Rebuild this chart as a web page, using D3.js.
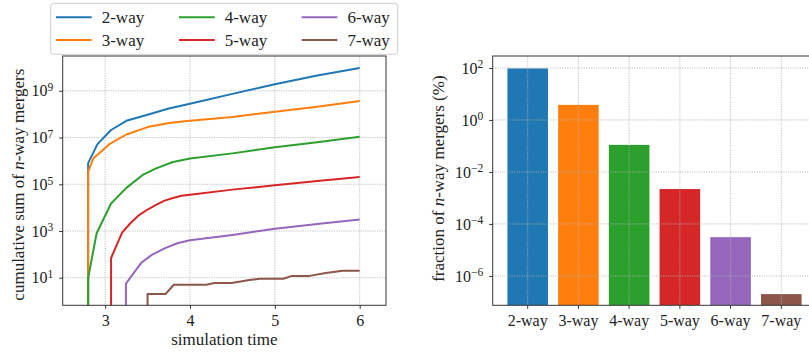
<!DOCTYPE html>
<html>
<head>
<meta charset="utf-8">
<script src="https://cdn.jsdelivr.net/npm/d3@7"></script>
<style>
  body { margin: 0; background: #fff; }
  text { font-family: "Liberation Serif", "DejaVu Serif", serif; fill: #222; }
</style>
</head>
<body>
<svg id="chart" width="809" height="354"></svg>
<script>
// ---- data ----
let categories = ["2-way", "3-way", "4-way", "5-way", "6-way", "7-way"];
let colors = ["#1f77b4", "#ff7f0e", "#2ca02c", "#d62728", "#9467bd", "#8c564b"];

// cumulative sums, one time/value pair of arrays per series (0 = nothing yet)
let t2 = [2.7, 2.8, 2.91, 3.07, 3.25, 3.5, 3.75, 4.0, 4.5, 5.0, 5.5, 6.0];
let v2 = [0, 8e5, 5.2e6, 2.1e7, 5.2e7, 9.5e7, 1.74e8, 2.8e8, 7.4e8, 1.9e9, 4.5e9, 9.5e9];
let t3 = [2.7, 2.8, 2.86, 3.05, 3.25, 3.5, 3.75, 4.0, 4.5, 5.0, 5.5, 6.0];
let v3 = [0, 3.5e5, 1.26e6, 5.2e6, 1.35e7, 2.8e7, 4.2e7, 5.2e7, 7.6e7, 1.26e8, 2.1e8, 3.7e8];
let t4 = [2.7, 2.8, 2.9, 3.07, 3.25, 3.45, 3.6, 3.8, 4.0, 4.5, 5.0, 5.5, 6.0];
let v4 = [0, 10, 800, 1.5e4, 7e4, 2.6e5, 4.8e5, 9e5, 1.26e6, 2.1e6, 3.8e6, 6.3e6, 1.07e7];
let t5 = [2.97, 3.07, 3.2, 3.3, 3.4, 3.5, 3.6, 3.7, 3.8, 3.9, 4.0, 4.5, 5.0, 5.5, 6.0];
let v5 = [0, 70, 850, 2200, 4800, 8300, 1.3e4, 2e4, 2.6e4, 3.2e4, 3.6e4, 5.9e4, 9.1e4, 1.38e5, 2.04e5];
let t6 = [3.145, 3.245, 3.43, 3.55, 3.7, 3.85, 4.0, 4.5, 5.0, 5.5, 6.0];
let v6 = [0, 5.6, 45, 95, 180, 300, 400, 680, 1260, 2000, 3100];
let t7 = [3.4, 3.5, 3.71, 3.81, 4.19, 4.29, 4.49, 4.7, 4.82, 5.1, 5.2, 5.41, 5.6, 5.8, 6.0];
let v7 = [0, 2, 2, 5, 5, 6, 6, 8, 9, 9, 12, 12, 16, 20, 20];

// fraction of n-way mergers (%)
let fractions = [96, 3.8, 0.11, 0.0022, 3.1e-5, 2.0e-7];

let leftXTicks = [3, 4, 5, 6];
let leftYExp = [1, 3, 5, 7, 9];
let rightYExp = [-6, -4, -2, 0, 2];

let seriesT = [t2, t3, t4, t5, t6, t7];
let seriesV = [v2, v3, v4, v5, v6, v7];

// ---- layout ----
let svg = d3.select("#chart");
let L = {left: 62.7, right: 386, top: 56, bottom: 305.3};
let R = {left: 492.7, right: 816.3, top: 56, bottom: 305.3};
let tickFont = "16px";
let labelFont = "17px";
let gridColor = "#b0b0b0";

function supLabel(sel, e) {
    sel.text("");
    sel.append("tspan").text("10");
    sel.append("tspan")
        .attr("dy", "-0.45em")
        .style("font-size", "11.5px")
        .text(String(e).replace("-", "\u2212"));
}

// ---------- left: cumulative sums ----------
let x = d3.scaleLinear().domain([2.5, 6.31]).range([L.left, L.right]);
let y = d3.scaleLog().domain([Math.pow(10, -0.18), Math.pow(10, 10.49)]).range([L.bottom, L.top]);

svg.append("clipPath").attr("id", "clipL")
    .append("rect").attr("x", L.left).attr("y", L.top)
    .attr("width", L.right - L.left).attr("height", L.bottom - L.top);

let gridL = svg.append("g");
gridL.selectAll(".gx").data(leftXTicks).enter().append("line")
    .attr("x1", d => x(d)).attr("x2", d => x(d))
    .attr("y1", L.top).attr("y2", L.bottom);
gridL.selectAll(".gy").data(leftYExp).enter().append("line")
    .attr("x1", L.left).attr("x2", L.right)
    .attr("y1", d => y(Math.pow(10, d))).attr("y2", d => y(Math.pow(10, d)));
gridL.selectAll("line").attr("stroke", gridColor).attr("stroke-width", 0.8)
    .attr("stroke-dasharray", "1.2,1.2");

let line = d3.line()
    .x(d => x(d[0]))
    .y(d => d[1] > 0 ? y(d[1]) : L.bottom + 1e5);

svg.append("g").attr("clip-path", "url(#clipL)")
    .selectAll("path")
    .data(seriesT.map((ts, i) => ts.map((t, j) => [t, seriesV[i][j]])))
    .enter().append("path")
    .attr("fill", "none")
    .attr("stroke", (d, i) => colors[i])
    .attr("stroke-width", 2)
    .attr("stroke-linejoin", "round")
    .attr("d", line);

let xAxisL = svg.append("g")
    .attr("transform", "translate(0," + L.bottom + ")")
    .call(d3.axisBottom(x).tickValues(leftXTicks).tickSize(3.5).tickPadding(6).tickFormat(d3.format("d")));

let yAxisL = svg.append("g")
    .attr("transform", "translate(" + L.left + ",0)")
    .call(d3.axisLeft(y).tickValues(leftYExp.map(e => Math.pow(10, e))).tickSize(3.5).tickPadding(6));
yAxisL.selectAll(".tick text").each(function(d, i) { supLabel(d3.select(this), leftYExp[i]); });

svg.append("rect")
    .attr("x", L.left).attr("y", L.top)
    .attr("width", L.right - L.left).attr("height", L.bottom - L.top)
    .attr("fill", "none").attr("stroke", "#333").attr("stroke-width", 1);

svg.append("text")
    .attr("x", (L.left + L.right) / 2).attr("y", 345)
    .attr("text-anchor", "middle").style("font-size", labelFont)
    .text("simulation time");

let ylabL = svg.append("text")
    .attr("transform", "translate(24," + ((L.top + L.bottom) / 2 + 4) + ")rotate(-90)")
    .attr("text-anchor", "middle").style("font-size", labelFont);
ylabL.append("tspan").text("cumulative sum of ");
ylabL.append("tspan").style("font-style", "italic").text("n");
ylabL.append("tspan").text("-way mergers");

// legend
let legend = svg.append("g");
legend.append("rect")
    .attr("x", 50.7).attr("y", 3.3).attr("width", 347).attr("height", 51)
    .attr("rx", 3).attr("fill", "#fff").attr("fill-opacity", 0.8)
    .attr("stroke", "#cccccc").attr("stroke-width", 1);
let colX = [56, 179, 301.7];
let rowY = [17.3, 40];
let entries = legend.selectAll(".entry").data(categories).enter().append("g")
    .attr("transform", (d, i) => "translate(" + colX[Math.floor(i / 2)] + "," + rowY[i % 2] + ")");
entries.append("line")
    .attr("x1", 0).attr("x2", 35.7).attr("y1", 0).attr("y2", 0)
    .attr("stroke", (d, i) => colors[i]).attr("stroke-width", 2);
entries.append("text")
    .attr("x", 45.7).attr("y", 5.5)
    .style("font-size", labelFont)
    .text(d => d);

// ---------- right: fractions ----------
let xb = d3.scaleBand().domain(categories).range([R.left, R.right])
    .paddingInner(0.2).paddingOuter(0.29);
let yb = d3.scaleLog().domain([Math.pow(10, -7.13), Math.pow(10, 2.46)]).range([R.bottom, R.top]);

svg.append("clipPath").attr("id", "clipR")
    .append("rect").attr("x", R.left).attr("y", R.top)
    .attr("width", R.right - R.left).attr("height", R.bottom - R.top);

svg.append("g").attr("clip-path", "url(#clipR)")
    .selectAll("rect").data(fractions).enter().append("rect")
    .attr("x", (d, i) => xb(categories[i]))
    .attr("width", xb.bandwidth())
    .attr("y", d => yb(d))
    .attr("height", d => R.bottom - yb(d))
    .attr("fill", (d, i) => colors[i]);

let gridR = svg.append("g");
gridR.selectAll(".gx").data(categories).enter().append("line")
    .attr("x1", d => xb(d) + xb.bandwidth() / 2).attr("x2", d => xb(d) + xb.bandwidth() / 2)
    .attr("y1", R.top).attr("y2", R.bottom);
gridR.selectAll(".gy").data(rightYExp).enter().append("line")
    .attr("x1", R.left).attr("x2", R.right)
    .attr("y1", d => yb(Math.pow(10, d))).attr("y2", d => yb(Math.pow(10, d)));
gridR.selectAll("line").attr("stroke", gridColor).attr("stroke-width", 0.8)
    .attr("stroke-dasharray", "1.2,1.2");

svg.append("g")
    .attr("transform", "translate(0," + R.bottom + ")")
    .call(d3.axisBottom(xb).tickSize(3.5).tickPadding(6));

let yAxisR = svg.append("g")
    .attr("transform", "translate(" + R.left + ",0)")
    .call(d3.axisLeft(yb).tickValues(rightYExp.map(e => Math.pow(10, e))).tickSize(3.5).tickPadding(6));
yAxisR.selectAll(".tick text").each(function(d, i) { supLabel(d3.select(this), rightYExp[i]); });

svg.append("rect")
    .attr("x", R.left).attr("y", R.top)
    .attr("width", R.right - R.left).attr("height", R.bottom - R.top)
    .attr("fill", "none").attr("stroke", "#333").attr("stroke-width", 1);

let ylabR = svg.append("text")
    .attr("transform", "translate(444," + ((R.top + R.bottom) / 2 - 2) + ")rotate(-90)")
    .attr("text-anchor", "middle").style("font-size", labelFont);
ylabR.append("tspan").text("fraction of ");
ylabR.append("tspan").style("font-style", "italic").text("n");
ylabR.append("tspan").text("-way mergers (%)");

// axis styling
svg.selectAll(".domain").remove();
svg.selectAll(".tick line").attr("stroke", "#333");
svg.selectAll(".tick text")
    .style("font-family", "'Liberation Serif', serif")
    .style("font-size", tickFont).attr("fill", "#222");
</script>
</body>
</html>
